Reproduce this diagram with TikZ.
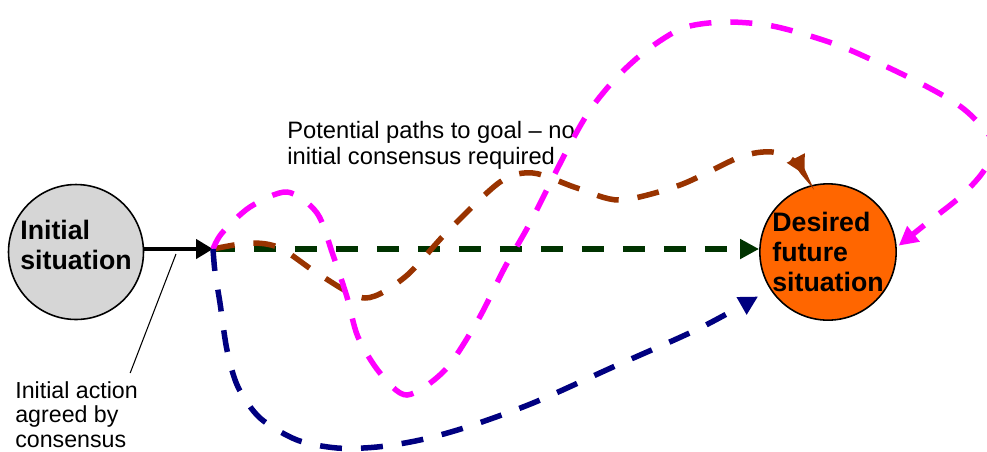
\documentclass[tikz,border=0pt]{standalone}
\usepackage{fontspec}
\setmainfont{Liberation Sans}
\usetikzlibrary{arrows.meta}
\definecolor{pathgreen}{HTML}{003300}
\definecolor{pathbrown}{HTML}{993300}
\definecolor{pathpink}{HTML}{FF00FF}
\definecolor{pathnavy}{HTML}{000080}
\definecolor{goalorange}{HTML}{FF6600}
\definecolor{startgray}{HTML}{D6D6D6}

\begin{document}
\begin{tikzpicture}[x=0.02cm,y=-0.02cm,
 sit/.style={circle,draw=black,line width=0.9pt,minimum size=2.7cm,inner sep=0pt,align=left,font=\fontsize{15.2}{17}\selectfont\bfseries},
 route/.style={line width=0.11cm,dash pattern=on 0.44cm off 0.38cm,-{Triangle[length=0.38cm,width=0.38cm]}},
 note/.style={align=left,inner sep=0pt,anchor=north west}]
\useasboundingbox (0,0) rectangle (987,451);

\node[sit,fill=startgray] (init) at (76,252) {};
\node[align=left,inner sep=0pt,font=\fontsize{15.2}{17}\selectfont\bfseries] (inittext) at ([yshift=0.14cm]init) {Initial\\situation};
\node[sit,fill=goalorange] (goal) at (828,252) {Desired\\future\\situation};
\coordinate (start) at (213,249);
\coordinate (act) at (176,254);

\node[note,font=\fontsize{13.2}{14}\selectfont] (actnote) at (15,381) {Initial action\\agreed by\\consensus};
\node[note,font=\fontsize{13.5}{14.8}\selectfont] (pathnote) at (287,121) {Potential paths to goal -- no\\initial consensus required};

\draw[line width=0.09cm,-{Triangle[length=0.34cm,width=0.38cm]}] (init.east |- start) -- (start);
\draw[line width=0.6pt] (act) -- ([xshift=-0.16cm,yshift=0.16cm]actnote.north east);

\draw[route,pathgreen] (start) -- (start -| goal.west);
\draw[route,pathbrown,shorten >=0.24cm] plot[smooth] coordinates {(start) (250,243) (280,248) (320,275) (365,298) (405,277) (447,232) (500,182) (533,173) (577,188) (620,200) (680,185) (740,157) (772,152) (795,162) (goal.105)};
\draw[route,pathpink,shorten >=0.05cm] plot[smooth] coordinates {(start) (222,233) (250,207) (287,192) (317,213) (333,255) (347,297) (358,337) (380,373) (407,395) (445,370) (478,320) (505,267) (530,223) (567,150) (590,110) (617,77) (647,50) (683,28) (723,22) (767,25) (807,35) (850,50) (920,83) (965,110) (995,145) (983,172) (960,197) (927,223) (goal.4)};
\draw[route,pathnavy,shorten >=0.28cm] plot[smooth] coordinates {(start) (215,272) (220,303) (227,350) (238,387) (260,418) (297,440) (337,448) (377,447) (420,440) (467,427) (533,403) (613,367) (700,328) (goal.213)};
\end{tikzpicture}
\end{document}
